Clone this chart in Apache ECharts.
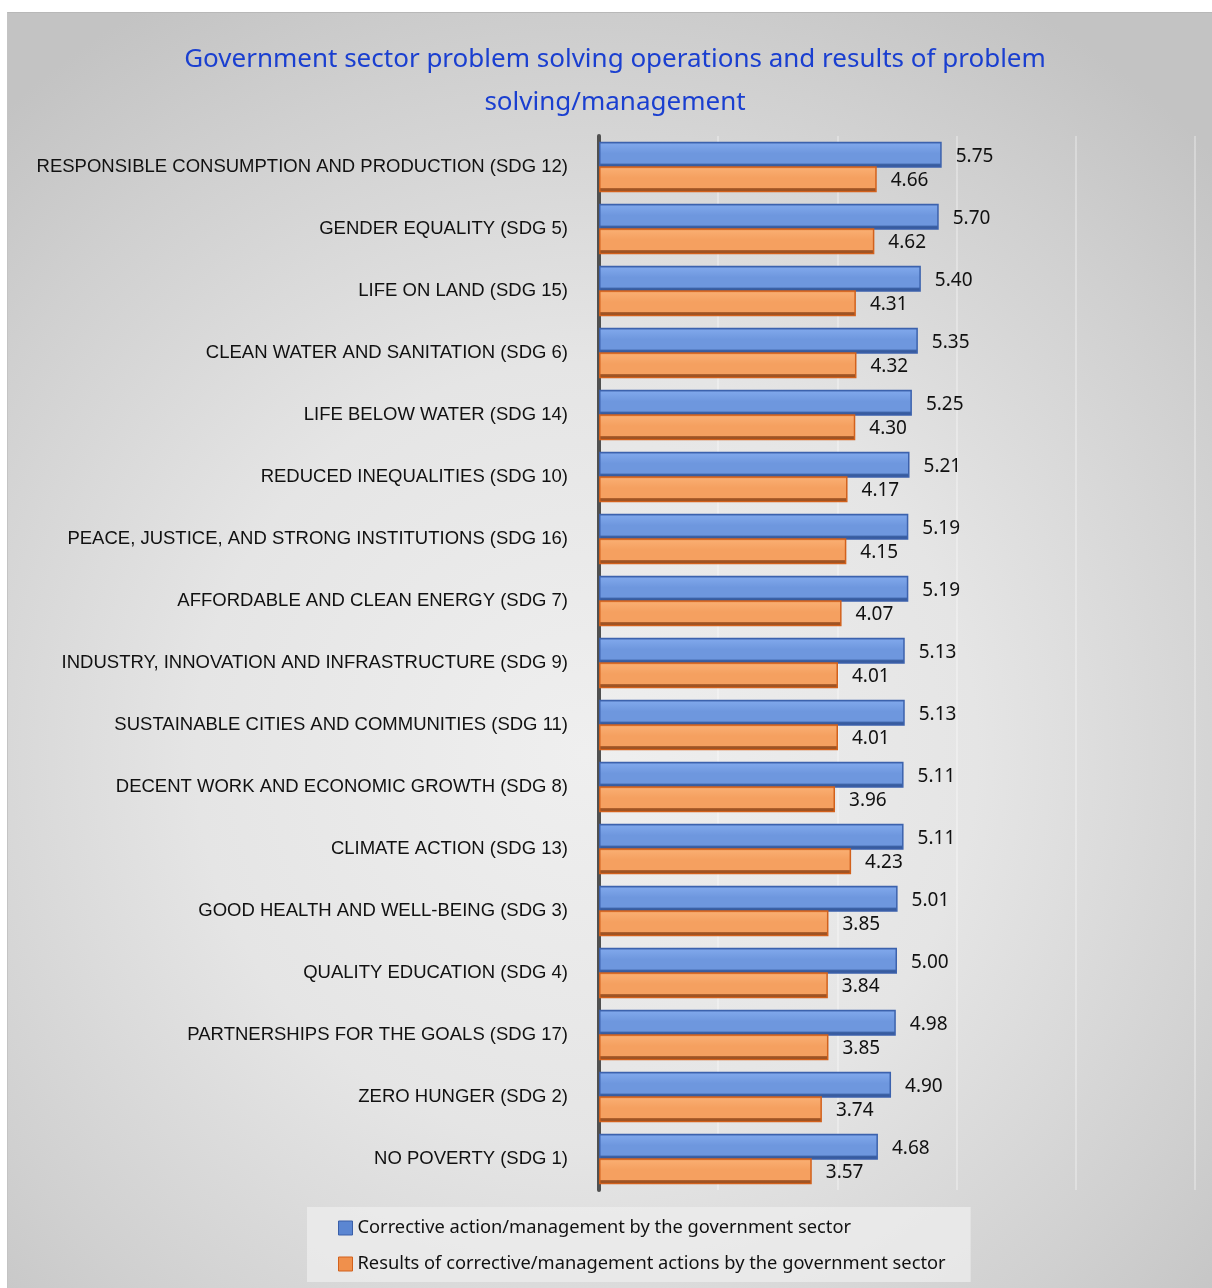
<!DOCTYPE html>
<html>
<head>
<meta charset="utf-8">
<script src="https://cdn.jsdelivr.net/npm/echarts@6/dist/echarts.min.js"></script>
<style>
  html, body { margin: 0; padding: 0; background: #ffffff; }
  #frame {
    position: absolute; left: 7px; top: 12px; width: 1205px; height: 1276px;
    border-top: 1px solid #b8b8b8; border-left: 1px solid #c4c4c4;
    background: radial-gradient(ellipse 72% 68% at 48% 58%, #efefef 0%, #e5e5e5 45%, #d0d0d0 80%, #c3c3c3 100%);
  }
  #chart { position: absolute; left: 0; top: 0; width: 1212px; height: 1288px; }
</style>
</head>
<body>
<div id="frame"></div>
<div id="chart"></div>
<script>
// SDG goals, listed top to bottom
const categories = [
  'RESPONSIBLE CONSUMPTION AND PRODUCTION (SDG 12)',
  'GENDER EQUALITY (SDG 5)',
  'LIFE ON LAND (SDG 15)',
  'CLEAN WATER AND SANITATION (SDG 6)',
  'LIFE BELOW WATER (SDG 14)',
  'REDUCED INEQUALITIES (SDG 10)',
  'PEACE, JUSTICE, AND STRONG INSTITUTIONS (SDG 16)',
  'AFFORDABLE AND CLEAN ENERGY (SDG 7)',
  'INDUSTRY, INNOVATION AND INFRASTRUCTURE (SDG 9)',
  'SUSTAINABLE CITIES AND COMMUNITIES (SDG 11)',
  'DECENT WORK AND ECONOMIC GROWTH (SDG 8)',
  'CLIMATE ACTION (SDG 13)',
  'GOOD HEALTH AND WELL-BEING (SDG 3)',
  'QUALITY EDUCATION (SDG 4)',
  'PARTNERSHIPS FOR THE GOALS (SDG 17)',
  'ZERO HUNGER (SDG 2)',
  'NO POVERTY (SDG 1)'
];
const correctiveAction = [5.75, 5.70, 5.40, 5.35, 5.25, 5.21, 5.19, 5.19, 5.13, 5.13, 5.11, 5.11, 5.01, 5.00, 4.98, 4.90, 4.68];
const actionResults    = [4.66, 4.62, 4.31, 4.32, 4.30, 4.17, 4.15, 4.07, 4.01, 4.01, 3.96, 4.23, 3.85, 3.84, 3.85, 3.74, 3.57];
const seriesNames = [
  'Corrective action/management by the government sector',
  'Results of corrective/management actions by the government sector'
];
const titleText = 'Government sector problem solving operations and results of problem\nsolving/management';

const LABEL_FONT = '"Liberation Sans", Arial, sans-serif';
const TEXT_FONT = '"Noto Sans", "Liberation Sans", sans-serif';

// vertical shading that gives the bars a bevelled, extruded look
function bevel(edge, light, body, shade, dark) {
  return {
    type: 'linear', x: 0, y: 0, x2: 0, y2: 1,
    colorStops: [
      { offset: 0, color: edge },
      { offset: 0.1, color: light },
      { offset: 0.45, color: body },
      { offset: 0.82, color: body },
      { offset: 0.86, color: shade },
      { offset: 1, color: dark }
    ]
  };
}

const chart = echarts.init(document.getElementById('chart'), null, { renderer: 'canvas' });

chart.setOption({
  backgroundColor: 'transparent',
  animation: false,
  title: {
    text: titleText,
    left: 610,
    textAlign: 'center',
    top: 33,
    textStyle: { color: '#1a3fd0', fontFamily: TEXT_FONT, fontSize: 26, fontWeight: 'normal', lineHeight: 43 }
  },
  legend: {
    orient: 'vertical',
    left: 307,
    top: 1207,
    padding: [12, 25, 9, 31],
    itemGap: 18,
    itemWidth: 14,
    itemHeight: 14,
    backgroundColor: 'rgba(238,238,238,0.75)',
    textStyle: { color: '#111', fontFamily: TEXT_FONT, fontSize: 18.3 },
    data: [
      { name: seriesNames[0], icon: 'rect', itemStyle: { color: '#5b86d2', borderColor: '#3a5fa8', borderWidth: 1 } },
      { name: seriesNames[1], icon: 'rect', itemStyle: { color: '#f0904c', borderColor: '#d2611c', borderWidth: 1 } }
    ]
  },
  grid: { left: 599, right: 17, top: 136, bottom: 98, containLabel: false },
  xAxis: {
    type: 'value',
    min: 0, max: 10, interval: 2,
    axisLabel: { show: false },
    axisLine: { show: false },
    axisTick: { show: false },
    splitLine: { show: true, lineStyle: { color: 'rgba(255,255,255,0.3)', width: 2 } }
  },
  yAxis: {
    type: 'category',
    inverse: true,
    data: categories,
    offset: 4,
    axisTick: { show: false },
    axisLine: { show: true, lineStyle: { color: '#505050', width: 4 } },
    axisLabel: { color: '#111', fontFamily: LABEL_FONT, fontSize: 18.5, margin: 27 }
  },
  series: [
    {
      name: seriesNames[0],
      type: 'bar',
      data: correctiveAction,
      barWidth: 26,
      barGap: '-6%',
      barCategoryGap: '20%',
      itemStyle: {
        color: bevel('#4a70bb', '#7ea6ea', '#6e97de', '#3d63a8', '#2f4f8c'),
        borderColor: '#3c62ad',
        borderWidth: 1.5
      },
      label: {
        show: true, position: 'right', distance: 14, offset: [0, 2],
        color: '#111', fontFamily: TEXT_FONT, fontSize: 19,
        formatter: p => p.value.toFixed(2)
      },
      z: 2
    },
    {
      name: seriesNames[1],
      type: 'bar',
      data: actionResults,
      barWidth: 26,
      itemStyle: {
        color: bevel('#dc6f28', '#f9ad70', '#f5a060', '#a85a28', '#7c4420'),
        borderColor: '#d2611c',
        borderWidth: 1.5
      },
      label: {
        show: true, position: 'right', distance: 14, offset: [0, 1],
        color: '#111', fontFamily: TEXT_FONT, fontSize: 19,
        formatter: p => p.value.toFixed(2)
      },
      z: 3
    }
  ]
});
</script>
</body>
</html>
